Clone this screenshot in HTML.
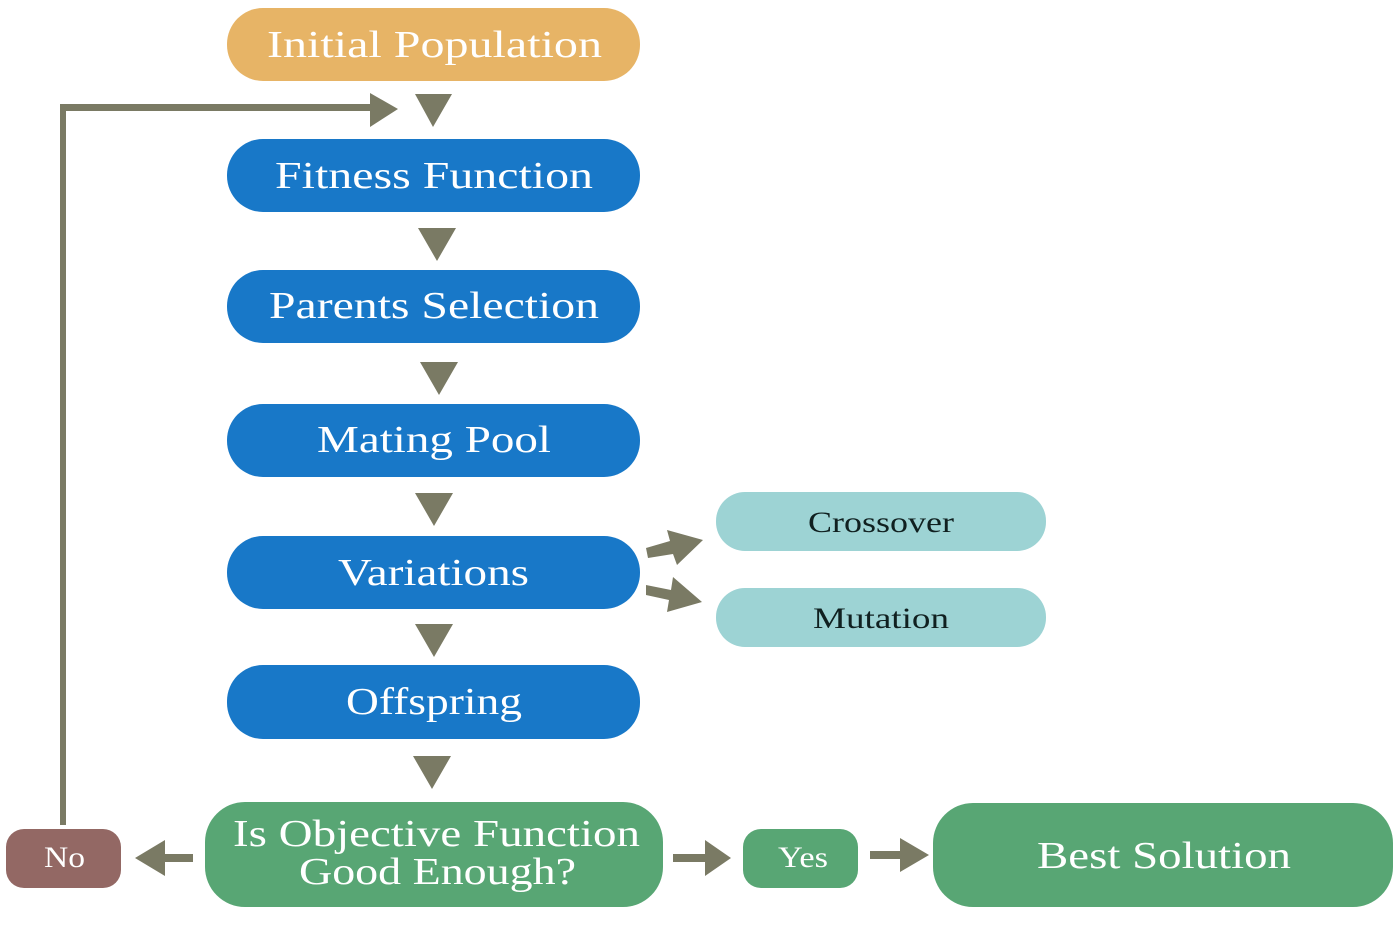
<!DOCTYPE html>
<html><head><meta charset="utf-8"><style>
html,body{margin:0;padding:0;background:#fff;}
svg{display:block;}
text{font-family:"Liberation Serif",serif;}
</style></head><body>
<svg width="1400" height="927" viewBox="0 0 1400 927" xmlns="http://www.w3.org/2000/svg">
<g fill="#fff" font-size="38">
<rect x="227" y="8" width="413" height="73" rx="36" fill="#e7b466"/>
<text x="267" y="57" textLength="335" lengthAdjust="spacingAndGlyphs">Initial Population</text>
<rect x="227" y="139" width="413" height="73" rx="36" fill="#1878c8"/>
<text x="275" y="188" textLength="318" lengthAdjust="spacingAndGlyphs">Fitness Function</text>
<rect x="227" y="270" width="413" height="73" rx="36" fill="#1878c8"/>
<text x="269" y="318" textLength="330" lengthAdjust="spacingAndGlyphs">Parents Selection</text>
<rect x="227" y="404" width="413" height="73" rx="36" fill="#1878c8"/>
<text x="317" y="452" textLength="234" lengthAdjust="spacingAndGlyphs">Mating Pool</text>
<rect x="227" y="536" width="413" height="73" rx="36" fill="#1878c8"/>
<text x="338" y="585" textLength="191" lengthAdjust="spacingAndGlyphs">Variations</text>
<rect x="227" y="665" width="413" height="74" rx="36" fill="#1878c8"/>
<text x="346" y="714" textLength="176" lengthAdjust="spacingAndGlyphs">Offspring</text>
<rect x="205" y="802" width="458" height="105" rx="40" fill="#58a674"/>
<text x="233" y="846" textLength="407" lengthAdjust="spacingAndGlyphs">Is Objective Function</text>
<text x="299" y="884" textLength="277" lengthAdjust="spacingAndGlyphs">Good Enough?</text>
<rect x="933" y="803" width="460" height="104" rx="40" fill="#58a674"/>
<text x="1037" y="868" textLength="254" lengthAdjust="spacingAndGlyphs">Best Solution</text>
</g>
<g font-size="30">
<rect x="6" y="829" width="115" height="59" rx="18" fill="#936864"/>
<text x="44" y="867" fill="#fff" textLength="41" lengthAdjust="spacingAndGlyphs">No</text>
<rect x="743" y="829" width="115" height="59" rx="18" fill="#58a674"/>
<text x="778" y="867" fill="#fff" textLength="50" lengthAdjust="spacingAndGlyphs">Yes</text>
<rect x="716" y="492" width="330" height="59" rx="29" fill="#9dd3d4"/>
<text x="808" y="532" fill="#102020" textLength="146" lengthAdjust="spacingAndGlyphs">Crossover</text>
<rect x="716" y="588" width="330" height="59" rx="29" fill="#9dd3d4"/>
<text x="813" y="628" fill="#102020" textLength="136" lengthAdjust="spacingAndGlyphs">Mutation</text>
</g>
<g fill="#7a7a64">
<polygon points="415,94 452,94 433,127"/>
<polygon points="418,228 456,228 437,261"/>
<polygon points="420,362 458,362 439,395"/>
<polygon points="415,493 453,493 434,526"/>
<polygon points="415,624 453,624 434,657"/>
<polygon points="413,756 451,756 432,789"/>
<polygon points="60,825 66,825 66,111 370,111 370,127 398,109 370,93 370,104 60,104"/>
<polygon points="193,854 165,854 165,840 135,858 165,876 165,862 193,862"/>
<polygon points="673,854 705,854 705,840 731,858 705,876 705,862 673,862"/>
<polygon points="870,851 900,851 900,838 929,855 900,872 900,859 870,859"/>
<polygon points="646,548 670,541 667,530 703,540 677,565 673,554 648,558"/>
<polygon points="646,585 671,590 673,577 702,602 667,612 669,600 646,595"/>
</g>
</svg>
</body></html>
